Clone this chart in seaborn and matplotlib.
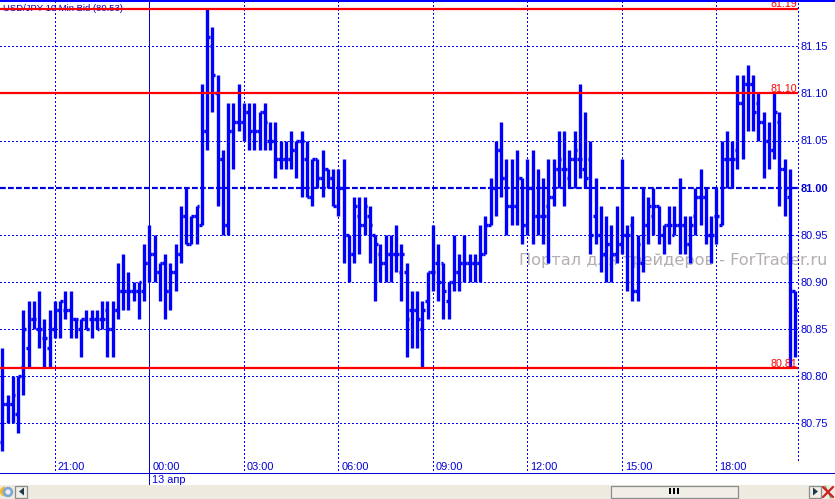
import numpy as np
import pandas as pd
import seaborn as sns
import matplotlib
matplotlib.use('Agg')
import matplotlib.pyplot as plt
from matplotlib.patches import Rectangle, Circle, Polygon, Wedge

# USD/JPY 10 min bars
highs = [80.83, 80.78, 80.80, 80.80, 80.87, 80.88, 80.88, 80.89, 80.86, 80.87,
         80.88, 80.88, 80.89, 80.89, 80.86, 80.86, 80.87, 80.87, 80.87, 80.88,
         80.88, 80.88, 80.92, 80.93, 80.91, 80.90, 80.90, 80.94, 80.96, 80.95,
         80.92, 80.93, 80.92, 80.94, 80.98, 81.00, 80.97, 80.98, 81.11, 81.19,
         81.17, 81.12, 81.04, 81.09, 81.09, 81.11, 81.09, 81.09, 81.09, 81.08,
         81.09, 81.07, 81.07, 81.05, 81.05, 81.06, 81.05, 81.06, 81.05, 81.03,
         81.03, 81.04, 81.02, 81.02, 81.02, 81.03, 80.95, 80.99, 80.99, 80.99,
         80.98, 80.95, 80.94, 80.95, 80.95, 80.96, 80.94, 80.92, 80.89, 80.89,
         80.88, 80.91, 80.96, 80.94, 80.92, 80.90, 80.95, 80.93, 80.95, 80.93,
         80.93, 80.96, 80.97, 81.01, 81.05, 81.07, 81.03, 81.03, 81.04, 81.01,
         81.03, 81.04, 81.02, 81.01, 81.03, 81.03, 81.06, 81.06, 81.04, 81.06,
         81.11, 81.08, 81.05, 81.01, 80.98, 80.97, 80.96, 80.98, 81.03, 80.96,
         80.97, 80.95, 81.00, 80.99, 81.00, 80.98, 80.96, 80.98, 80.98, 81.01,
         80.97, 80.97, 81.00, 81.02, 81.00, 80.97, 81.00, 81.05, 81.06, 81.05,
         81.12, 81.12, 81.13, 81.12, 81.10, 81.08, 81.07, 81.10, 81.08, 81.03,
         81.02, 80.89]
lows = [80.72, 80.75, 80.75, 80.74, 80.78, 80.81, 80.85, 80.83, 80.81, 80.81,
        80.84, 80.84, 80.86, 80.84, 80.84, 80.82, 80.85, 80.84, 80.85, 80.85,
        80.82, 80.82, 80.86, 80.87, 80.87, 80.88, 80.86, 80.88, 80.90, 80.90,
        80.88, 80.86, 80.87, 80.89, 80.92, 80.94, 80.94, 80.94, 80.96, 81.04,
        81.08, 80.98, 80.95, 80.95, 81.02, 81.06, 81.05, 81.04, 81.04, 81.04,
        81.04, 81.04, 81.01, 81.02, 81.02, 81.02, 81.01, 80.99, 80.99, 80.98,
        81.00, 80.99, 81.00, 80.98, 80.97, 80.92, 80.90, 80.92, 80.93, 80.95,
        80.92, 80.88, 80.90, 80.90, 80.90, 80.91, 80.88, 80.82, 80.83, 80.83,
        80.81, 80.86, 80.89, 80.88, 80.86, 80.86, 80.89, 80.89, 80.90, 80.90,
        80.90, 80.90, 80.93, 80.96, 80.97, 80.99, 80.95, 80.96, 80.96, 80.94,
        80.95, 80.94, 80.95, 80.94, 80.92, 80.98, 81.00, 80.98, 81.00, 81.00,
        81.01, 81.00, 80.93, 80.94, 80.91, 80.90, 80.90, 80.92, 80.93, 80.89,
        80.88, 80.88, 80.91, 80.94, 80.95, 80.94, 80.93, 80.94, 80.95, 80.93,
        80.93, 80.92, 80.95, 80.96, 80.94, 80.92, 80.94, 80.96, 81.00, 81.00,
        81.02, 81.03, 81.06, 81.06, 81.05, 81.01, 81.02, 81.03, 80.98, 80.97,
        80.81, 80.82]
opens = [80.73, 80.77, 80.77, 80.76, 80.81, 80.83, 80.86, 80.85, 80.84, 80.83,
         80.85, 80.87, 80.87, 80.87, 80.86, 80.85, 80.86, 80.86, 80.86, 80.86,
         80.87, 80.85, 80.87, 80.89, 80.89, 80.89, 80.89, 80.89, 80.92, 80.93,
         80.91, 80.92, 80.89, 80.91, 80.93, 80.97, 80.94, 80.97, 80.96, 81.06,
         81.15, 81.10, 81.03, 80.96, 81.06, 81.07, 81.07, 81.08, 81.06, 81.06,
         81.08, 81.05, 81.05, 81.03, 81.03, 81.03, 81.04, 81.05, 81.03, 80.99,
         81.03, 81.01, 81.02, 81.01, 80.98, 81.00, 80.95, 80.93, 80.97, 80.96,
         80.97, 80.95, 80.93, 80.92, 80.93, 80.93, 80.91, 80.91, 80.87, 80.87,
         80.85, 80.88, 80.91, 80.92, 80.92, 80.88, 80.90, 80.91, 80.92, 80.92,
         80.92, 80.92, 80.93, 80.96, 81.00, 81.04, 81.01, 80.98, 80.98, 81.01,
         80.96, 81.00, 80.97, 80.97, 80.98, 80.99, 81.02, 81.02, 81.01, 81.03,
         81.03, 81.02, 81.03, 80.97, 80.95, 80.93, 80.94, 80.93, 80.94, 80.95,
         80.96, 80.89, 80.92, 80.96, 80.97, 80.98, 80.95, 80.96, 80.95, 80.96,
         80.96, 80.94, 80.97, 80.99, 80.99, 80.95, 80.97, 80.96, 81.03, 81.03,
         81.04, 81.09, 81.11, 81.11, 81.09, 81.07, 81.05, 81.04, 81.07, 81.02,
         80.99, 80.89]
closes = [80.77, 80.77, 80.78, 80.80, 80.85, 80.86, 80.86, 80.85, 80.84, 80.85,
          80.87, 80.88, 80.87, 80.86, 80.86, 80.86, 80.85, 80.86, 80.85, 80.86,
          80.85, 80.87, 80.89, 80.89, 80.89, 80.89, 80.90, 80.92, 80.93, 80.91,
          80.92, 80.89, 80.91, 80.93, 80.97, 80.94, 80.97, 80.98, 81.06, 81.16,
          81.12, 81.03, 80.96, 81.06, 81.07, 81.07, 81.08, 81.06, 81.06, 81.08,
          81.07, 81.05, 81.03, 81.03, 81.03, 81.04, 81.05, 81.05, 80.99, 81.03,
          81.01, 81.02, 81.01, 80.98, 81.00, 80.95, 80.93, 80.98, 80.96, 80.98,
          80.96, 80.94, 80.92, 80.93, 80.93, 80.93, 80.93, 80.86, 80.87, 80.86,
          80.87, 80.91, 80.91, 80.90, 80.89, 80.90, 80.91, 80.92, 80.92, 80.92,
          80.92, 80.93, 80.96, 81.00, 81.04, 81.01, 80.98, 80.98, 81.01, 80.96,
          81.00, 80.97, 80.97, 80.97, 80.99, 81.02, 81.03, 81.02, 81.03, 81.04,
          81.03, 81.01, 80.95, 80.95, 80.93, 80.94, 80.93, 80.94, 80.95, 80.95,
          80.89, 80.94, 80.96, 80.98, 80.98, 80.95, 80.96, 80.96, 80.96, 80.96,
          80.94, 80.96, 80.99, 80.99, 80.95, 80.95, 80.97, 81.03, 81.03, 81.03,
          81.09, 81.11, 81.11, 81.08, 81.07, 81.05, 81.04, 81.08, 81.02, 81.00,
          80.89, 80.87]

time_bars = [10, 28, 46, 64, 82, 100, 118, 136]
time_labels = ['21:00', '00:00', '03:00', '06:00', '09:00', '12:00', '15:00', '18:00']
price_ticks = [80.75, 80.80, 80.85, 80.90, 80.95, 81.00, 81.05, 81.10, 81.15]
red_levels = [81.19, 81.10, 80.808]
red_labels = ['81.19', '81.10', '80.81']

W, H = 835, 499
BLUE = '#0000ff'
LABEL = '#0000d8'
RED = '#ff0000'
BEIGE = '#edebe0'
BTN = '#f0eee6'

sns.set_theme(style='white')
plt.rcParams['font.family'] = ['Liberation Sans', 'DejaVu Sans']

fig = plt.figure(figsize=(W / 100, H / 100), dpi=100, facecolor='white')
ax = fig.add_axes([0, (H - 473.5) / H, 798 / W, 473.5 / H])

n = len(highs)
stems = pd.DataFrame({'bar': list(range(n)) * 2, 'price': highs + lows})
tick_rows = []
for i in range(n):
    tick_rows.append((i * 2, i - 0.5, opens[i]))
    tick_rows.append((i * 2, i, opens[i]))
    tick_rows.append((i * 2 + 1, i, closes[i]))
    tick_rows.append((i * 2 + 1, i + 0.5, closes[i]))
ticks = pd.DataFrame(tick_rows, columns=['id', 'bar', 'price'])

sns.lineplot(data=stems, x='bar', y='price', units='bar', estimator=None, sort=False,
             color=BLUE, linewidth=2.4, legend=False, ax=ax, zorder=5,
             solid_capstyle='butt')
sns.lineplot(data=ticks, x='bar', y='price', units='id', estimator=None, sort=False,
             color=BLUE, linewidth=2.4, legend=False, ax=ax, zorder=5,
             solid_capstyle='butt')

ax.set_xlim(-0.44, (798 - 2.3) / 5.25)
ax.set_ylim(81 - (473.5 - 187.6) / 942, 81 + 187.6 / 942)
ax.set_xlabel('')
ax.set_ylabel('')
sns.despine(ax=ax, left=True, right=True, top=True, bottom=True)

# grid
dot = (0, (1.2, 2.4))
for p in price_ticks:
    if p == 81.00:
        ax.axhline(p, color='#0000e0', lw=1.6, ls=(0, (2.6, 1)), zorder=2)
    else:
        ax.axhline(p, color=BLUE, lw=0.72, ls=dot, zorder=2, antialiased=False)
for b, lab in zip(time_bars, time_labels):
    if lab == '00:00':
        ax.plot([b, b], ax.get_ylim(), color=LABEL, lw=0.72, zorder=2, antialiased=False)
    else:
        ax.axvline(b, color=BLUE, lw=0.72, ls=dot, zorder=2, antialiased=False)
    ax.text(b + 0.55, 80.7035, lab, color=LABEL, fontsize=7.9, va='center', ha='left')
ax.vlines(ax.get_xlim()[1] - 0.03, 80.711, ax.get_ylim()[1], color=BLUE, lw=0.72, ls=dot,
          clip_on=False, zorder=2, antialiased=False)

# support / resistance levels
for lev, lab in zip(red_levels, red_labels):
    ax.axhline(lev, color=RED, lw=1.6, zorder=6)
    ax.text(ax.get_xlim()[1] - 0.1, lev + 0.0016, lab, color=RED, fontsize=7.7,
            ha='right', va='baseline', zorder=7)

# price labels on the right
ax.yaxis.tick_right()
ax.set_yticks(price_ticks)
ax.set_yticklabels(['%.2f' % p for p in price_ticks], color=LABEL, fontsize=7.9)
for lab, p in zip(ax.get_yticklabels(), price_ticks):
    if p == 81.00:
        lab.set_fontweight('bold')
ax.set_xticks([])
ax.tick_params(axis='y', length=0, pad=2)

ax.text(0.0035, 0.9825, 'USD/JPY 10 Min Bid (80.53)', transform=ax.transAxes, color='#0000c0',
        fontsize=6.8, va='center', ha='left', zorder=3)
ax.text(519 / 798, 1 - 260 / 473.5, 'Портал для трейдеров - ForTrader.ru', transform=ax.transAxes,
        color='#b5aeae', fontsize=11.6, family='DejaVu Sans', va='center', ha='left',
        clip_on=False, zorder=1)

# window frame on a pixel-sized overlay: top line, bottom line, date row, scrollbar
chrome = fig.add_axes([0, 0, 1, 1], zorder=10)
chrome.set_xlim(0, W)
chrome.set_ylim(H, 0)
chrome.axis('off')
chrome.patch.set_visible(False)

chrome.add_patch(Rectangle((0, 0), W, 2, color=BLUE, lw=0))
chrome.add_patch(Rectangle((0, 473), W, 1, color=LABEL, lw=0))
chrome.add_patch(Rectangle((149, 474), 1, 11, color=LABEL, lw=0))
chrome.text(152, 480, '13 апр', color=LABEL, fontsize=7.9, va='center', ha='left')
chrome.add_patch(Rectangle((0, 485), W, 14, color=BEIGE, lw=0))

# scrollbar thumb and buttons
chrome.add_patch(Rectangle((611, 485.5), 127, 12, facecolor=BTN, edgecolor='#8c8c8c', lw=0.9))
for xb in [670, 674, 678]:
    chrome.add_patch(Rectangle((xb - 1, 488), 2.4, 6, color='black', lw=0))
chrome.add_patch(Rectangle((15, 485.5), 12, 12, facecolor=BTN, edgecolor='#8c8c8c', lw=0.9))
chrome.add_patch(Rectangle((809, 485.5), 12, 12, facecolor=BTN, edgecolor='#8c8c8c', lw=0.9))
chrome.add_patch(Polygon([(19, 491.5), (24, 487.5), (24, 495.5)], color='#1c3a4a', lw=0))
chrome.add_patch(Polygon([(818, 491.5), (813, 487.5), (813, 495.5)], color='#1c3a4a', lw=0))

# little icons at both ends
chrome.add_patch(Wedge((5, 491.5), 5, 90, 270, color='#f2b62e', lw=0))
chrome.add_patch(Circle((8, 492), 5.2, color='#7ea6d6', lw=0))
chrome.add_patch(Circle((8, 492), 2.6, color='#e8f0f8', lw=0))
chrome.plot([823, 833], [487, 497], color='#d02020', lw=1.6)
chrome.plot([823, 833], [497, 487], color='#d02020', lw=1.6)
chrome.plot([825, 831], [486, 498], color='#5a8a50', lw=0.8, zorder=1)
chrome.set_xlim(0, W)
chrome.set_ylim(H, 0)

fig.savefig('out.png', dpi=100)
